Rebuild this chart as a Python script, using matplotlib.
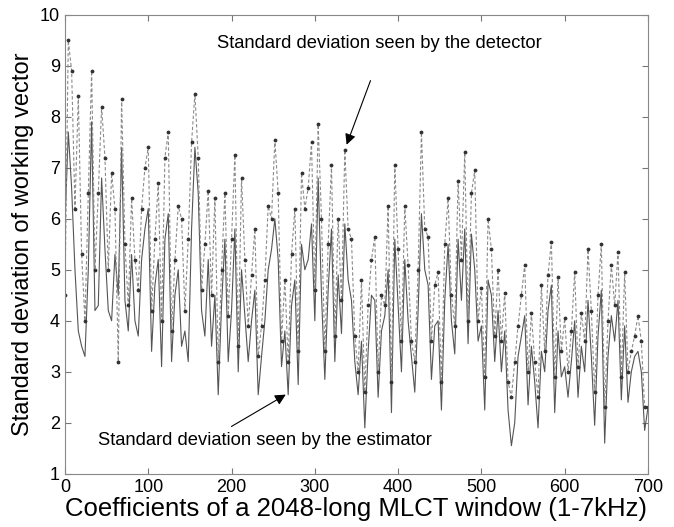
import matplotlib.pyplot as plt
import numpy as np

plt.rcParams['font.family'] = ['Liberation Sans', 'DejaVu Sans']

# coefficient index (every 4th coefficient)
coef = np.arange(0, 701, 4)

# standard deviation seen by the detector (dashed with dots)
detector = [
    4.5, 9.5, 8.9, 6.2, 8.4, 5.3, 4.0, 6.5, 8.9, 5.0,
    6.5, 8.2, 7.2, 5.0, 6.9, 6.2, 3.2, 8.35, 5.5, 4.3,
    6.4, 5.2, 4.6, 6.2, 7.0, 7.4, 4.2, 5.6, 6.7, 4.0,
    7.2, 7.7, 3.8, 5.2, 6.25, 6.0, 4.2, 5.6, 7.5, 8.45,
    7.2, 4.6, 5.5, 6.55, 4.5, 6.4, 3.2, 5.0, 6.5, 4.1,
    5.6, 7.25, 3.5, 6.8, 5.2, 3.9, 4.9, 5.8, 3.3, 3.9,
    4.8, 6.25, 6.0, 7.55, 6.5, 3.6, 4.8, 3.2, 5.3, 6.2,
    3.4, 6.9, 6.2, 6.6, 7.5, 4.6, 7.85, 6.0, 3.4, 5.5,
    7.05, 3.7, 6.0, 4.4, 7.35, 5.8, 5.6, 3.7, 3.0, 4.8,
    2.6, 4.3, 5.2, 5.65, 3.0, 4.5, 4.3, 6.25, 2.8, 7.05,
    5.4, 3.6, 6.25, 5.1, 3.6, 3.2, 5.0, 7.7, 5.8, 5.65,
    3.6, 4.7, 4.95, 2.8, 5.5, 6.4, 4.5, 3.9, 6.75, 5.2,
    7.3, 4.0, 6.5, 6.95, 4.0, 4.65, 2.9, 6.0, 5.4, 3.7,
    5.0, 3.6, 4.55, 2.8, 2.5, 3.2, 3.9, 4.5, 5.1, 3.0,
    4.15, 3.2, 2.5, 4.7, 3.4, 4.9, 5.55, 2.9, 4.85, 3.4,
    4.05, 3.0, 3.8, 4.95, 3.1, 4.15, 3.6, 5.4, 4.2, 2.6,
    4.5, 5.5, 2.3, 4.0, 5.1, 4.3, 5.35, 2.9, 4.95, 3.0,
    3.4, 3.7, 4.1, 3.6, 2.3, 2.3,
]

# standard deviation seen by the estimator (solid)
estimator = [
    5.9, 7.7, 6.6, 5.0, 3.8, 3.5, 3.3, 5.0, 7.9, 4.2,
    4.3, 6.8, 5.4, 4.2, 4.0, 5.3, 4.5, 7.4, 4.4, 3.8,
    5.3, 4.0, 3.7, 5.2, 5.8, 6.2, 3.4, 4.7, 5.2, 3.1,
    5.6, 6.1, 3.2, 4.5, 5.0, 3.5, 3.8, 3.2, 5.8, 7.4,
    6.5, 4.2, 3.7, 5.2, 3.5, 4.5, 2.55, 4.3, 5.6, 3.2,
    4.2, 5.8, 3.0, 5.0, 4.1, 3.2, 4.0, 4.6, 2.55, 3.3,
    4.0, 5.0, 5.4, 6.0, 5.2, 3.1, 3.8, 2.55, 4.3, 4.8,
    2.75, 5.5, 5.0, 5.2, 5.9, 4.0, 6.8, 4.5, 2.85, 4.6,
    5.8, 3.2, 4.9, 3.75, 5.9, 4.8, 4.4, 3.2, 2.55, 3.6,
    1.9, 3.4, 4.5, 4.4, 2.5, 3.8, 4.1, 5.0, 2.2, 5.6,
    4.3, 3.0, 5.2, 4.0, 3.3, 2.6, 4.2, 6.1, 5.0, 4.7,
    2.85, 3.9, 4.0, 2.25, 4.4, 5.5, 4.0, 3.35, 5.6, 4.4,
    5.8, 3.55, 5.7, 5.0, 3.6, 3.9, 2.25, 4.8, 4.5, 3.2,
    4.2, 3.0, 3.8, 2.25, 1.55, 2.0, 3.3, 3.7, 4.1, 2.35,
    3.5, 2.8, 1.9, 3.4, 3.0, 4.2, 4.7, 2.2, 3.8, 2.9,
    3.1, 2.5, 3.2, 4.0, 2.5, 3.5, 3.0, 4.4, 3.3, 1.95,
    3.7, 4.6, 1.6, 3.3, 4.1, 3.6, 4.4, 2.45, 3.9, 2.4,
    3.0, 3.3, 3.4, 3.0, 1.85, 2.3,
]

fig = plt.figure(figsize=(6.74, 5.27), dpi=100)
ax = fig.add_axes([0.0964, 0.101, 0.865, 0.871])

ax.plot(coef, estimator, color='#555555', linewidth=0.8, linestyle='-')
ax.plot(coef, detector, color='#8a8a8a', linewidth=0.8, linestyle=(0, (3, 2)),
        marker='.', markersize=3.5, markerfacecolor='#333333',
        markeredgecolor='#333333')

ax.set_xlim(0, 700)
ax.set_ylim(1, 10)
ax.set_xticks(range(0, 701, 100))
ax.set_yticks(range(1, 11))
ax.tick_params(direction='in', top=True, right=True, labelsize=13,
               length=4, color='#777777')
for s in ax.spines.values():
    s.set_color('#888888')

ax.set_xlabel('Coefficients of a 2048-long MLCT window (1-7kHz)', fontsize=18.5, labelpad=1)
ax.set_ylabel('Standard deviation of working vector', fontsize=17, labelpad=4)

ax.text(378, 9.43, 'Standard deviation seen by the detector', fontsize=13.2,
        ha='center', va='center')
ax.annotate('', xy=(337, 7.4), xytext=(368, 8.76),
            arrowprops=dict(arrowstyle='-|>', color='black', lw=0.8, mutation_scale=16))

ax.text(240, 1.66, 'Standard deviation seen by the estimator', fontsize=13.2,
        ha='center', va='center')
ax.annotate('', xy=(268, 2.58), xytext=(197, 1.9),
            arrowprops=dict(arrowstyle='-|>', color='black', lw=0.8, mutation_scale=16))

plt.savefig('out.png', dpi=100)
